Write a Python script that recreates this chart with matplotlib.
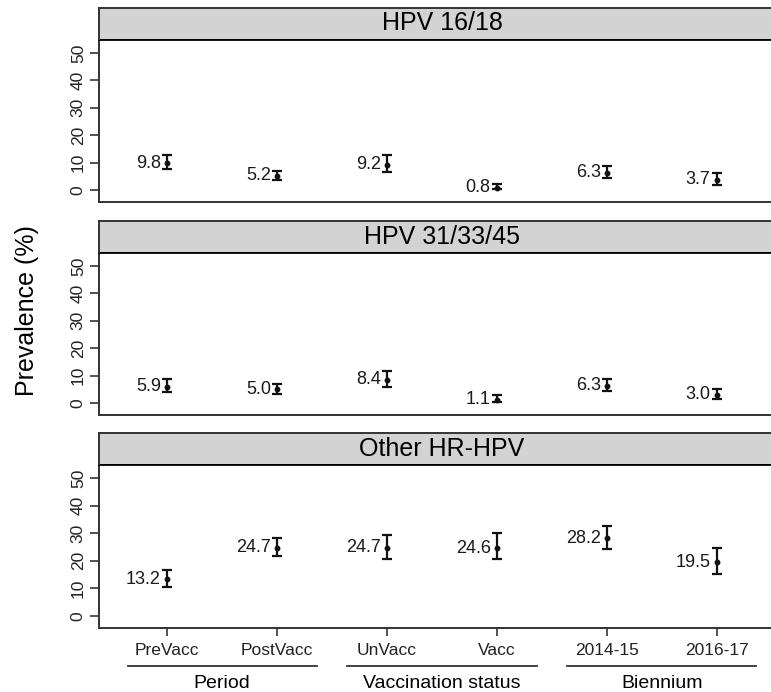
import numpy as np
import matplotlib.pyplot as plt
from matplotlib.lines import Line2D
from matplotlib.transforms import blended_transform_factory

plt.rcParams['font.family'] = ['Liberation Sans', 'DejaVu Sans']

# ---- data ----
categories = ["PreVacc", "PostVacc", "UnVacc", "Vacc", "2014-15", "2016-17"]
groups = ["Period", "Vaccination status", "Biennium"]
group_centers = [1.5, 3.5, 5.5]

panels = ["HPV 16/18", "HPV 31/33/45", "Other HR-HPV"]

hpv1618 = [9.8, 5.2, 9.2, 0.8, 6.3, 3.7]
hpv1618_lo = [7.6, 3.7, 6.4, 0.3, 4.3, 1.9]
hpv1618_hi = [12.6, 7.0, 12.8, 2.2, 8.7, 6.3]

hpv313345 = [5.9, 5.0, 8.4, 1.1, 6.3, 3.0]
hpv313345_lo = [4.0, 3.4, 5.9, 0.4, 4.3, 1.5]
hpv313345_hi = [8.6, 6.9, 11.5, 2.8, 8.9, 5.1]

other = [13.2, 24.7, 24.7, 24.6, 28.2, 19.5]
other_lo = [10.3, 21.9, 20.8, 20.5, 24.2, 15.2]
other_hi = [16.7, 28.4, 29.4, 29.9, 32.6, 24.7]

series = [(hpv1618, hpv1618_lo, hpv1618_hi),
          (hpv313345, hpv313345_lo, hpv313345_hi),
          (other, other_lo, other_hi)]

# ---- layout (pixel based, 771x692) ----
W, H = 771, 692
fig = plt.figure(figsize=(W / 100, H / 100), dpi=100)

left_px, right_px = 99, 785
panel_px = [(39, 202), (252, 415), (464, 628)]   # axes top/bottom
strip_h = 31
edge = "#333333"

x = np.arange(1, len(categories) + 1)
axes = []
for i, ((top, bot), name, (val, lo, hi)) in enumerate(zip(panel_px, panels, series)):
    ax = fig.add_axes([left_px / W, 1 - bot / H, (right_px - left_px) / W, (bot - top) / H])
    axes.append(ax)
    val = np.array(val); lo = np.array(lo); hi = np.array(hi)
    ax.errorbar(x, val, yerr=[val - lo, hi - val], fmt="o", color="#111111",
                ms=3.2, elinewidth=1.6, capsize=3.4, capthick=1.6)
    for xi, v in zip(x, val):
        ax.annotate(f"{v:.1f}", (xi, v), xytext=(-4.5, 0), textcoords="offset points",
                    ha="right", va="center", fontsize=13, color="#1a1a1a")
    ax.set_xlim(0.38, 6.62)
    ax.set_ylim(-4.4, 55.1)
    ax.set_yticks([0, 10, 20, 30, 40, 50])
    ax.tick_params(axis="y", length=6.5, width=1.2, color=edge, pad=3, labelsize=12.5,
                   labelcolor="#222222")
    for lab in ax.get_yticklabels():
        lab.set_rotation(90)
        lab.set_va("center")
    for s in ax.spines.values():
        s.set_color(edge)
        s.set_linewidth(1.4)
    ax.spines["top"].set_color("black")
    ax.spines["top"].set_linewidth(2)

    # strip header
    sax = fig.add_axes([left_px / W, 1 - top / H, (right_px - left_px) / W, strip_h / H])
    sax.set_xticks([]); sax.set_yticks([])
    sax.set_facecolor("#d3d3d3")
    for s in sax.spines.values():
        s.set_color(edge)
        s.set_linewidth(1.4)
    sax.spines["bottom"].set_visible(False)
    sax.text(0.5, 0.5, name, ha="center", va="center", fontsize=18, transform=sax.transAxes)

    if i < 2:
        ax.set_xticks([])
    else:
        ax.set_xticks(x)
        ax.set_xticklabels(categories)
        ax.tick_params(axis="x", length=6, width=1.2, color=edge, pad=5, labelsize=12.5,
                       labelcolor="#222222")

# group lines and labels under bottom panel
ax3 = axes[-1]
tr = blended_transform_factory(ax3.transData, fig.transFigure)
for g, c in zip(groups, group_centers):
    fig.add_artist(Line2D([c - 0.86, c + 0.86], [1 - 666 / H, 1 - 666 / H],
                          transform=tr, color="#333333", lw=1.3))
    fig.text(c, 1 - 683 / H, g, transform=tr, ha="center", va="center", fontsize=14)

fig.text(27 / W, 1 - 311 / H, "Prevalence (%)", rotation=90, ha="center", va="center",
         fontsize=18)

plt.savefig("out.png", dpi=100)
